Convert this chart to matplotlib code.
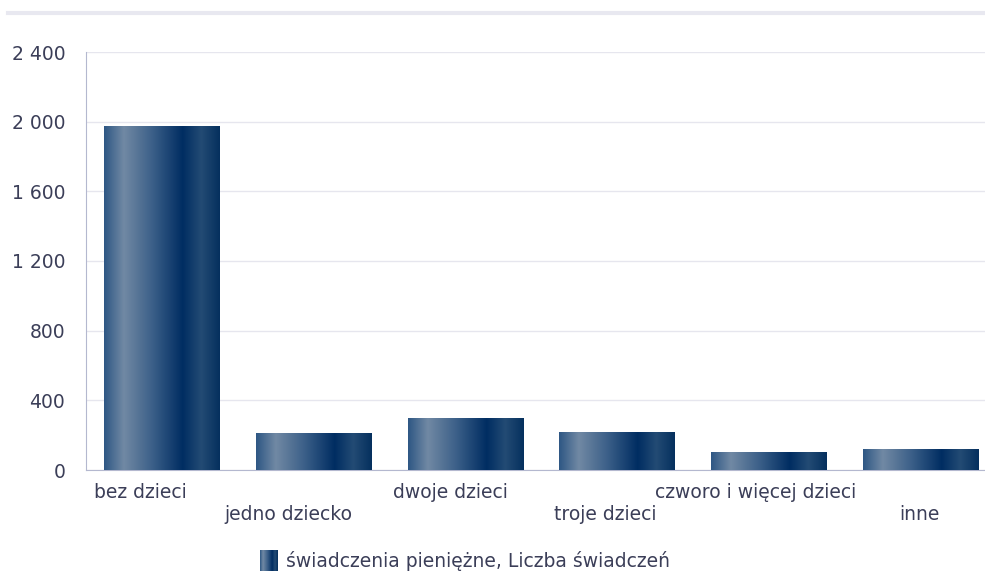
import numpy as np
from matplotlib import pyplot as plt
from matplotlib.colors import LinearSegmentedColormap

categories = ['bez dzieci', 'jedno dziecko', 'dwoje dzieci', 'troje dzieci',
              'czworo i więcej dzieci', 'inne']
values = [1975, 207, 298, 218, 103, 115]
yticks = [0, 400, 800, 1200, 1600, 2000, 2400]
series_name = 'świadczenia pieniężne, Liczba świadczeń'

TEXT = '#3b3e58'
GRID = '#e6e6ee'
AXIS = '#b4b8cf'
FS = 13.5

# horizontal shading of the bars (left -> right)
BAR_CMAP = LinearSegmentedColormap.from_list('bar', [
    (0.00, '#2e5784'),
    (0.17, '#7189a4'),
    (0.42, '#3b5f88'),
    (0.68, '#002d62'),
    (0.84, '#234b74'),
    (1.00, '#05305e'),
])
GRAD = np.linspace(0, 1, 256).reshape(1, -1)

# label shift (px) relative to the bar centre, as in the original
label_shift = [-21, -25, -15, -12, -13, -1]


def fmt(v):
    return f'{v:,}'.replace(',', ' ')


def gradient_bar(ax, x0, x1, y0, y1):
    return ax.imshow(GRAD, cmap=BAR_CMAP, aspect='auto', extent=(x0, x1, y0, y1),
                     interpolation='bilinear', zorder=3)


plt.rcParams['font.family'] = ['DejaVu Sans']
fig = plt.figure(figsize=(9.85, 5.71), dpi=100)
ax = fig.add_axes([86 / 985, 1 - 470 / 571, 910 / 985, 418 / 571])

width = 0.76
for i, v in enumerate(values):
    gradient_bar(ax, i - width / 2, i + width / 2, 0, v)

ax.set_xlim(-0.5, len(categories) - 0.5)
ax.set_ylim(0, 2400)
ax.set_yticks(yticks)
ax.set_yticklabels([fmt(t) for t in yticks], color=TEXT, fontsize=FS)
ax.yaxis.grid(True, color=GRID, linewidth=1, zorder=0)
ax.set_axisbelow(True)
ax.tick_params(axis='y', length=0, pad=15)
ax.set_xticks([])
for s in ['top', 'right']:
    ax.spines[s].set_visible(False)
ax.spines['left'].set_color(AXIS)
ax.spines['bottom'].set_color(AXIS)

# staggered category labels
for i, c in enumerate(categories):
    dy = -9.5 if i % 2 == 0 else -25.5
    ax.annotate(c, (i, 0), xytext=(label_shift[i] * 0.72, dy),
                textcoords='offset points', ha='center', va='top',
                fontsize=FS, color=TEXT, annotation_clip=False)

# top separator line under the (cut off) title
fig.add_artist(plt.Line2D([8 / 985, 1], [1 - 13 / 571] * 2, color='#e8e8f0',
                          linewidth=3, transform=fig.transFigure))

# legend (sits at the very bottom edge, slightly cut off)
lax = fig.add_axes([260 / 985, 0, 18 / 985, 21 / 571])
lax.imshow(GRAD, cmap=BAR_CMAP, aspect='auto', extent=(0, 1, 0, 1))
lax.axis('off')
fig.text(286 / 985, 1 - 567 / 571, series_name, ha='left', va='baseline',
         fontsize=FS, color=TEXT)

fig.savefig('out.png', dpi=100)
